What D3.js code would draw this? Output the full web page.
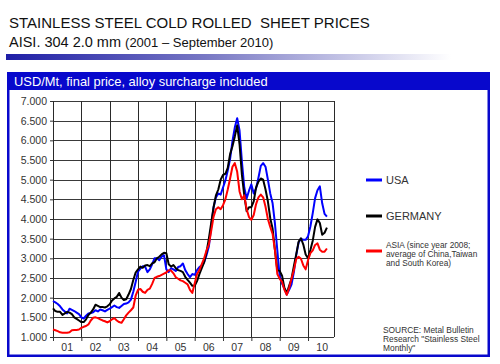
<!DOCTYPE html>
<html>
<head>
<meta charset="utf-8">
<script src="https://cdn.jsdelivr.net/npm/d3@7"></script>
<style>
  html, body { margin: 0; padding: 0; background: #fff; }
  svg { display: block; }
  text { font-family: "Liberation Sans", Arial, sans-serif; }
</style>
</head>
<body>
<div id="chart"></div>
<script>
// ---- Data (monthly, Jan 2001 - Sep 2010), USD/Mt ----
const yearLabels = ["01","02","03","04","05","06","07","08","09","10"];
const yTicks = [1000,1500,2000,2500,3000,3500,4000,4500,5000,5500,6000,6500,7000];

const usa = [
  1915,1880,1840,1780,1700,1650,1600,1720,1690,1660,1620,1580,
  1500,1470,1540,1600,1610,1630,1680,1650,1700,1680,1650,1690,
  1720,1760,1800,1760,1740,1790,1840,1850,1880,1950,2150,2400,
  2660,2740,2800,2790,2650,2720,2850,3000,3000,2950,3040,3080,
  2720,2650,2750,2720,2680,2780,2800,2870,2700,2600,2520,2600,
  2580,2700,2780,2820,2900,3080,3300,3800,4300,4550,4650,4620,
  4800,4980,5230,5530,5980,6330,6560,6250,5460,4800,4520,4720,
  4880,4650,4780,5050,5350,5420,5330,5000,4650,4400,3880,3200,
  2550,2360,2230,2080,2200,2330,2650,3080,3400,3500,3470,3470,
  3560,3810,4150,4530,4730,4830,4400,4130,4060
];
const germany = [
  1730,1660,1640,1640,1560,1600,1640,1620,1580,1500,1460,1420,
  1380,1380,1450,1560,1620,1700,1820,1790,1760,1760,1750,1780,
  1830,1930,1980,2020,2120,2000,1940,1960,2080,2220,2450,2640,
  2720,2790,2760,2820,2830,2800,2870,2900,3000,3040,3100,3140,
  3130,2850,2790,2830,2750,2700,2680,2650,2530,2450,2380,2300,
  2300,2420,2600,2750,2900,3150,3500,3900,4300,4600,4750,5000,
  5120,5150,5300,5650,5850,6100,6380,5900,5120,4600,4200,4300,
  4300,4450,4800,4950,5030,5000,4750,4450,4020,3750,3200,2700,
  2680,2560,2250,2120,2300,2480,2800,3100,3420,3510,3350,3100,
  3000,3210,3450,3800,3990,3900,3600,3650,3780
];
const asia = [
  1190,1170,1150,1120,1110,1110,1110,1120,1170,1180,1180,1190,
  1230,1260,1280,1320,1420,1490,1500,1480,1450,1420,1400,1370,
  1400,1450,1480,1420,1380,1360,1450,1550,1620,1680,1750,2050,
  2200,2220,2150,2120,2200,2230,2350,2500,2530,2550,2580,2610,
  2640,2700,2690,2620,2520,2480,2440,2420,2380,2340,2200,2120,
  2360,2600,2700,2850,3000,3200,3350,3700,4060,4250,4300,4250,
  4350,4500,4750,5030,5330,5420,5200,4700,4500,4600,4250,4050,
  3980,4100,4380,4550,4620,4550,4310,4000,3800,3620,3200,2600,
  2480,2400,2200,2070,2250,2480,2700,2980,3040,2990,2820,2720,
  2950,3130,3200,3340,3380,3220,3170,3170,3250
];

const series = [
  { name: "USA", values: usa, color: "#0000ff" },
  { name: "GERMANY", values: germany, color: "#000000" },
  { name: "ASIA", values: asia, color: "#ff0000" }
];

// ---- Layout ----
const W = 500, H = 364;
const svg = d3.select("#chart").append("svg").attr("width", W).attr("height", H);

// Title
svg.append("text").attr("x", 9).attr("y", 28)
  .attr("font-size", 15).attr("fill", "#111")
  .attr("xml:space", "preserve")
  .text("STAINLESS STEEL COLD ROLLED  SHEET PRICES");
const t2 = svg.append("text").attr("x", 9).attr("y", 47).attr("fill", "#111");
t2.append("tspan").attr("font-size", 14.5).text("AISI. 304 2.0 mm ");
t2.append("tspan").attr("font-size", 13).text("(2001 \u2013 September 2010)");

// Gradient bar
const defs = svg.append("defs");
const grad = defs.append("linearGradient").attr("id", "gbar");
grad.append("stop").attr("offset", "0%").attr("stop-color", "#1e1ea6");
grad.append("stop").attr("offset", "45%").attr("stop-color", "#7878c4");
grad.append("stop").attr("offset", "100%").attr("stop-color", "#ffffff");
svg.append("rect").attr("x", 6).attr("y", 54).attr("width", 445).attr("height", 6)
  .attr("fill", "url(#gbar)");

// Box
const boxColor = "#0808cc";
svg.append("rect").attr("x", 8.25).attr("y", 73.25).attr("width", 480.5).attr("height", 282.5)
  .attr("fill", "#fff").attr("stroke", boxColor).attr("stroke-width", 2.5);
svg.append("rect").attr("x", 7).attr("y", 72).attr("width", 483).attr("height", 18)
  .attr("fill", boxColor);
svg.append("text").attr("x", 14).attr("y", 86).attr("font-size", 12.9).attr("fill", "#fff")
  .text("USD/Mt, final price, alloy surcharge included");

// Scales
const x = d3.scaleLinear().domain([0, 119]).range([53, 334]);
const y = d3.scaleLinear().domain([1000, 7000]).range([337, 101]);

const locale = d3.formatLocale({ decimal: ",", thousands: ".", grouping: [3], currency: ["", ""] });
const fmt = locale.format(",.0f");

const plot = svg.append("g");

// Horizontal grid + y axis
const yAxis = d3.axisLeft(y).tickValues(yTicks).tickFormat(fmt)
  .tickSize(3).tickPadding(3);
const gy = plot.append("g").attr("transform", "translate(53,0)").call(yAxis);
gy.select(".domain").remove();
gy.selectAll(".tick line").attr("stroke", "#333");
gy.selectAll(".tick text").attr("font-size", 10.5).attr("fill", "#333")
  .attr("font-family", "'Liberation Sans', Arial, sans-serif");

plot.append("g").selectAll("line").data(yTicks).join("line")
  .attr("x1", 53).attr("x2", 334)
  .attr("y1", d => Math.round(y(d)) + 0.5).attr("y2", d => Math.round(y(d)) + 0.5)
  .attr("stroke", "#3a3a3a").attr("stroke-width", 1);

// Vertical grid (year boundaries) + x axis ticks
const yearBounds = d3.range(0, 120, 12);
const xAxis = d3.axisBottom(x).tickValues(yearBounds).tickFormat("").tickSize(4);
const gx = plot.append("g").attr("transform", "translate(0,337)").call(xAxis);
gx.select(".domain").remove();
gx.selectAll(".tick line").attr("stroke", "#333");

plot.append("g").selectAll("line").data(yearBounds.concat([119])).join("line")
  .attr("x1", d => Math.round(x(d)) + 0.5).attr("x2", d => Math.round(x(d)) + 0.5)
  .attr("y1", 101).attr("y2", 337)
  .attr("stroke", "#2a2a2a").attr("stroke-width", 1);

// Year labels centered in each year
plot.append("g").selectAll("text").data(yearLabels).join("text")
  .attr("x", (d, i) => x(i * 12 + 6))
  .attr("y", 351)
  .attr("text-anchor", "middle")
  .attr("font-size", 10.5).attr("fill", "#333")
  .text(d => d);

// Lines
const line = d3.line().x((d, i) => x(i)).y(d => y(d));
plot.append("g").selectAll("path").data(series).join("path")
  .attr("d", d => line(d.values))
  .attr("fill", "none")
  .attr("stroke", d => d.color)
  .attr("stroke-width", 2)
  .attr("stroke-linejoin", "round");

// Legend
const leg = svg.append("g");
const legItems = [
  { color: "#0000ff", y: 180, lines: ["USA"], size: 11, ty: 184 },
  { color: "#000000", y: 216, lines: ["GERMANY"], size: 11, ty: 220 },
  { color: "#ff0000", y: 251, lines: ["ASIA (since year 2008;", "average of China,Taiwan", "and South Korea)"], size: 8.3, ty: 247.5 }
];
legItems.forEach(it => {
  leg.append("line").attr("x1", 366).attr("x2", 382).attr("y1", it.y).attr("y2", it.y)
    .attr("stroke", it.color).attr("stroke-width", 3);
  const tx = leg.append("text").attr("x", 386).attr("y", it.ty)
    .attr("font-size", it.size).attr("fill", "#333");
  it.lines.forEach((l, i) => {
    tx.append("tspan").attr("x", 386).attr("dy", i === 0 ? 0 : 9.3).text(l);
  });
});

// Source
const src = svg.append("text").attr("x", 383).attr("y", 332.5).attr("font-size", 8.4).attr("fill", "#333");
["SOURCE: Metal Bulletin", "Research \"Stainless Steel", "Monthly\""].forEach((l, i) => {
  src.append("tspan").attr("x", 383).attr("dy", i === 0 ? 0 : 9.3).text(l);
});
</script>
</body>
</html>
